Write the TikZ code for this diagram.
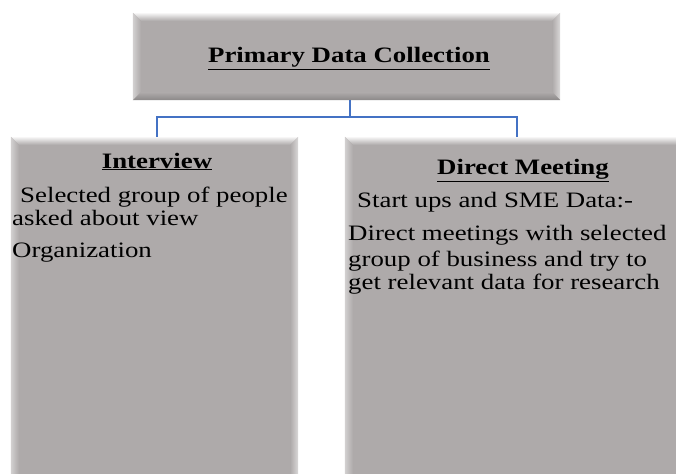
\documentclass[tikz,border=0pt]{standalone}
\usepackage{fontspec}
\setmainfont{Liberation Serif}[FakeStretch=1.22]
\begin{document}
\begin{tikzpicture}[x=1pt, y=-1pt,
    box/.style={draw=none, fill=boxgrey, inner sep=0pt},
    link/.style={draw=linkblue, line width=2pt},
    head/.style={font=\fontsize{22}{23}\selectfont\bfseries, inner sep=0pt, anchor=base},
    body/.style={font=\fontsize{22}{23}\selectfont, inner sep=0pt, anchor=base west}]
        \definecolor{boxgrey}{RGB}{174,170,170}
        \definecolor{linkblue}{RGB}{68,114,196}

        \clip (0,0) rectangle (676,473);
        \fill[white] (0,0) rectangle (676,473);

        \node[box, minimum width=427pt, minimum height=87pt] (collect) at (346.5,56.5) {};
        \node[box, minimum width=287pt, minimum height=353pt] (interview) at (154.5,313.5) {};
        \node[box, minimum width=360pt, minimum height=353pt] (meeting) at (525,313.5) {};

        % bevelled edges
        \foreach \b in {collect,interview,meeting} {
            \shade[top color=white!92!boxgrey, bottom color=boxgrey]
                (\b.north west) -- (\b.north east) -- ([shift={(-8,8)}]\b.north east)
                -- ([shift={(8,8)}]\b.north west) -- cycle;
            \shade[left color=white!45!boxgrey, right color=boxgrey]
                (\b.north west) -- ([shift={(8,8)}]\b.north west)
                -- ([shift={(8,-8)}]\b.south west) -- (\b.south west) -- cycle;
            \shade[right color=white!55!boxgrey, left color=boxgrey]
                (\b.north east) -- ([shift={(-8,8)}]\b.north east)
                -- ([shift={(-8,-8)}]\b.south east) -- (\b.south east) -- cycle;
            \shade[top color=boxgrey, bottom color=boxgrey!80!black]
                (\b.south west) -- (\b.south east) -- ([shift={(-8,-8)}]\b.south east)
                -- ([shift={(8,-8)}]\b.south west) -- cycle;
        }

        \draw[link] ([xshift=3.5pt]collect.south) -- ++(0,17) coordinate (fork);
        \draw[link] (fork) -| ([xshift=2.5pt]interview.north);
        \draw[link] (fork) -| ([xshift=-8pt]meeting.north);

        \node[head] (collecttitle) at (349,63) {\underline{Primary Data Collection}};

        \node[head] (interviewtitle) at (157,168) {\underline{Interview}};
        \node[body] (interviewa) at (20,202) {Selected group of people};
        \node[body] (interviewb) at (12,225) {asked about view};
        \node[body] (interviewc) at (12,257) {Organization};

        \node[head] (meetingtitle) at (523,175) {\underline{Direct Meeting}};
        \node[body] (meetinga) at (357,207) {Start ups and SME Data:-};
        \node[body] (meetingb) at (348,240) {Direct meetings with selected};
        \node[body] (meetingc) at (348,266) {group of business and try to};
        \node[body] (meetingd) at (348,289) {get relevant data for research};

    \end{tikzpicture}
\end{document}
